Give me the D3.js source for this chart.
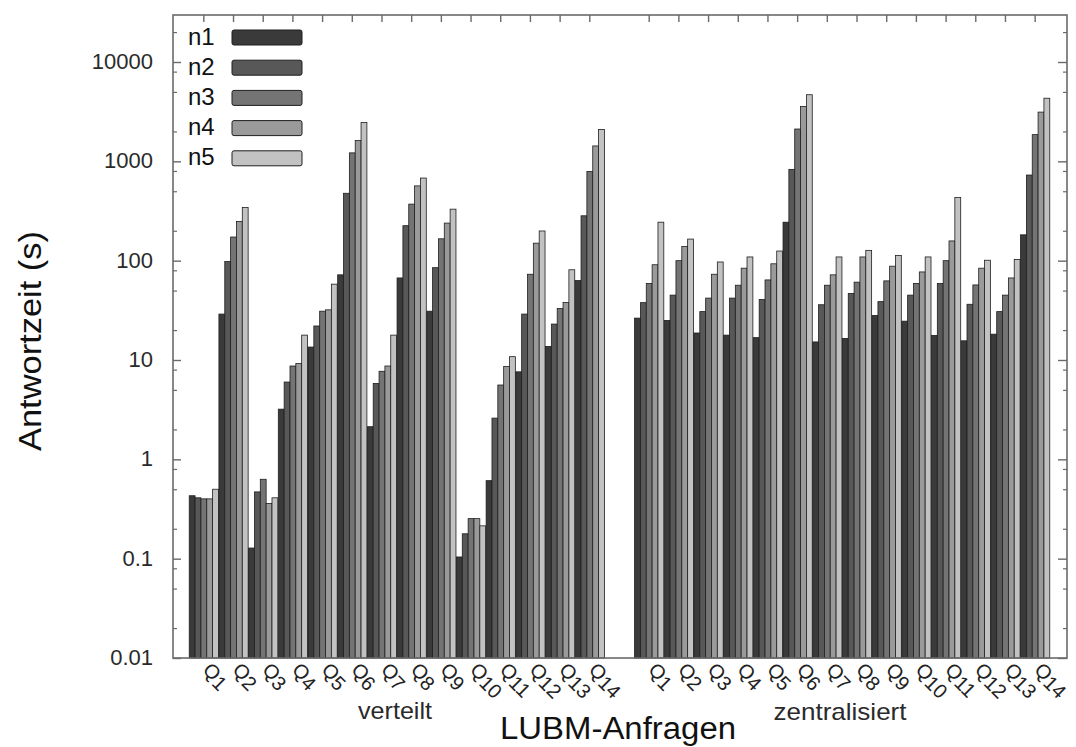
<!DOCTYPE html>
<html>
<head>
<meta charset="utf-8">
<script src="https://cdn.jsdelivr.net/npm/d3@7"></script>
<style>
  html, body { margin: 0; padding: 0; background: #fff; }
  svg { display: block; font-family: "Liberation Sans", Arial, sans-serif; }
</style>
</head>
<body>
<svg id="chart" width="1076" height="747"></svg>
<script>
// ---- data ----
const queries = ["Q1","Q2","Q3","Q4","Q5","Q6","Q7","Q8","Q9","Q10","Q11","Q12","Q13","Q14"];
const groups = ["verteilt", "zentralisiert"];
const seriesNames = ["n1","n2","n3","n4","n5"];
const seriesColors = ["#3a3a3a","#585858","#747474","#9a9a9a","#c2c2c2"];
const yTickLabels = ["0.01","0.1","1","10","100","1000","10000"];

// verteilt
const verteilt_n1 = [0.43, 29, 0.128, 3.2, 13.5, 72, 2.13, 67, 31, 0.104, 0.61, 7.6, 13.7, 63];
const verteilt_n2 = [0.41, 98, 0.47, 6.0, 22, 477, 5.8, 225, 85, 0.178, 2.6, 29, 23, 283];
const verteilt_n3 = [0.40, 173, 0.63, 8.7, 31, 1217, 7.7, 371, 166, 0.253, 5.6, 73, 33, 789];
const verteilt_n4 = [0.40, 248, 0.36, 9.2, 32, 1623, 8.7, 566, 239, 0.253, 8.6, 150, 38, 1429];
const verteilt_n5 = [0.50, 343, 0.41, 17.8, 58, 2460, 17.8, 679, 330, 0.214, 10.8, 199, 81, 2094];
// zentralisiert
const zentral_n1 = [26.4, 25, 18.7, 17.8, 16.8, 244, 15.2, 16.5, 28, 24.6, 17.7, 15.6, 18.2, 182];
const zentral_n2 = [37.8, 45, 30.7, 42, 40.7, 830, 36, 46.8, 38.7, 45, 59, 36.4, 30.7, 728];
const zentral_n3 = [59, 100, 42, 56.6, 64, 2115, 56.6, 60.8, 62.6, 59, 100, 57, 45, 1857];
const zentral_n4 = [91, 139, 73, 84, 93, 3573, 72, 109, 88, 77, 158, 84, 67, 3131];
const zentral_n5 = [244, 165, 97, 109, 125, 4684, 109, 127, 113, 109, 432, 101, 103, 4318];

const valuesByGroup = {
  "verteilt": [verteilt_n1, verteilt_n2, verteilt_n3, verteilt_n4, verteilt_n5],
  "zentralisiert": [zentral_n1, zentral_n2, zentral_n3, zentral_n4, zentral_n5]
};

// ---- layout ----
const frame = {left: 173, right: 1067, top: 15, bottom: 658};
const barsLeft = 189, barsRight = 1050;

const svg = d3.select("#chart");

// slots: 14 + gap + 14
const slots = [];
groups.forEach((g, gi) => {
  if (gi > 0) slots.push("gap");
  queries.forEach(q => slots.push(g + "|" + q));
});

const x = d3.scaleBand().domain(slots).range([barsLeft, barsRight]).paddingInner(0).paddingOuter(0);
const x1 = d3.scaleBand().domain(seriesNames).range([0, x.bandwidth()]).paddingOuter(0.04).paddingInner(0);

const yTop = Math.pow(10, 4 + (62 - frame.top) / 99.33);
const y = d3.scaleLog().domain([0.01, yTop]).range([frame.bottom, frame.top]);

// records
const records = [];
groups.forEach(g => {
  queries.forEach((q, qi) => {
    seriesNames.forEach((s, si) => {
      records.push({group: g, query: q, series: s, si: si, value: valuesByGroup[g][si][qi]});
    });
  });
});

// bars
svg.append("g").selectAll("rect")
  .data(records)
  .join("rect")
  .attr("x", d => x(d.group + "|" + d.query) + x1(d.series))
  .attr("width", x1.bandwidth())
  .attr("y", d => y(d.value))
  .attr("height", d => frame.bottom - y(d.value))
  .attr("fill", d => seriesColors[d.si])
  .attr("stroke", "#1e1e1e")
  .attr("stroke-width", 0.8);

// frame
svg.append("rect")
  .attr("x", frame.left).attr("y", frame.top)
  .attr("width", frame.right - frame.left).attr("height", frame.bottom - frame.top)
  .attr("fill", "none").attr("stroke", "#6a6a6a").attr("stroke-width", 1.6);

// y ticks (major + minor at 2,5,8)
const majors = yTickLabels.map(Number);
const minors = [];
for (let e = -2; e <= 4; e++) {
  [2, 5, 8].forEach(m => {
    const v = m * Math.pow(10, e);
    if (v <= yTop) minors.push(v);
  });
}

const yAxisL = d3.axisLeft(y).tickValues(majors).tickFormat((d, i) => yTickLabels[i]).tickSize(-8).tickPadding(20);
const gL = svg.append("g").attr("transform", `translate(${frame.left},0)`).call(yAxisL);
gL.select(".domain").remove();
gL.selectAll(".tick line").attr("stroke", "#6a6a6a").attr("stroke-width", 1.4);
gL.selectAll(".tick text").attr("font-size", 22).attr("fill", "#2a2a2a").attr("dy", "0.30em");

const gLm = svg.append("g").attr("transform", `translate(${frame.left},0)`)
  .call(d3.axisLeft(y).tickValues(minors).tickFormat("").tickSize(-4));
gLm.select(".domain").remove();
gLm.selectAll(".tick line").attr("stroke", "#6a6a6a").attr("stroke-width", 1.2);

const gR = svg.append("g").attr("transform", `translate(${frame.right},0)`)
  .call(d3.axisRight(y).tickValues(majors).tickFormat("").tickSize(-9));
gR.select(".domain").remove();
gR.selectAll(".tick line").attr("stroke", "#6a6a6a").attr("stroke-width", 1.4);
const gRm = svg.append("g").attr("transform", `translate(${frame.right},0)`)
  .call(d3.axisRight(y).tickValues(minors).tickFormat("").tickSize(-4));
gRm.select(".domain").remove();
gRm.selectAll(".tick line").attr("stroke", "#6a6a6a").attr("stroke-width", 1.2);

// top ticks at query centers
const querySlots = slots.filter(s => s !== "gap");
const gT = svg.append("g").attr("transform", `translate(0,${frame.top})`)
  .call(d3.axisTop(x).tickValues(querySlots).tickFormat("").tickSize(-7));
gT.select(".domain").remove();
gT.selectAll(".tick line").attr("stroke", "#6a6a6a").attr("stroke-width", 1.4);

// bottom rotated labels
const gB = svg.append("g").attr("transform", `translate(0,${frame.bottom})`)
  .call(d3.axisBottom(x).tickValues(querySlots).tickFormat("").tickSize(0));
gB.select(".domain").remove();
gB.selectAll(".tick").each(function(d) {
  const q = d.split("|")[1];
  const t = d3.select(this).append("text")
    .attr("transform", "translate(-2,13) rotate(45)")
    .attr("text-anchor", "start")
    .attr("font-size", 20)
    .attr("fill", "#222");
  t.append("tspan").text("Q");
  t.append("tspan").attr("dy", 3).text(q.slice(1));
});

// group labels
svg.append("text").attr("x", 395).attr("y", 719).attr("text-anchor", "middle")
  .attr("font-size", 24).attr("textLength", 74).attr("lengthAdjust", "spacingAndGlyphs")
  .attr("fill", "#2a2a2a").text(groups[0]);
svg.append("text").attr("x", 840).attr("y", 720).attr("text-anchor", "middle")
  .attr("font-size", 24).attr("textLength", 133).attr("lengthAdjust", "spacingAndGlyphs")
  .attr("fill", "#2a2a2a").text(groups[1]);

// axis titles
svg.append("text").attr("x", 618).attr("y", 739).attr("text-anchor", "middle")
  .attr("font-size", 31).attr("textLength", 236).attr("lengthAdjust", "spacingAndGlyphs")
  .attr("fill", "#111").text("LUBM-Anfragen");
svg.append("text").attr("transform", "translate(41,341) rotate(-90)").attr("text-anchor", "middle")
  .attr("font-size", 32).attr("textLength", 220).attr("lengthAdjust", "spacingAndGlyphs")
  .attr("fill", "#111").text("Antwortzeit (s)");

// legend
const legend = svg.append("g");
seriesNames.forEach((s, i) => {
  const cy = 37.5 + i * 30.2;
  legend.append("text").attr("x", 188).attr("y", cy + 7).attr("font-size", 24).attr("fill", "#111").text(s);
  legend.append("rect").attr("x", 232).attr("y", cy - 7.5).attr("width", 70).attr("height", 15)
    .attr("rx", 2).attr("fill", seriesColors[i]).attr("stroke", "#1e1e1e").attr("stroke-width", 1);
});
</script>
</body>
</html>
